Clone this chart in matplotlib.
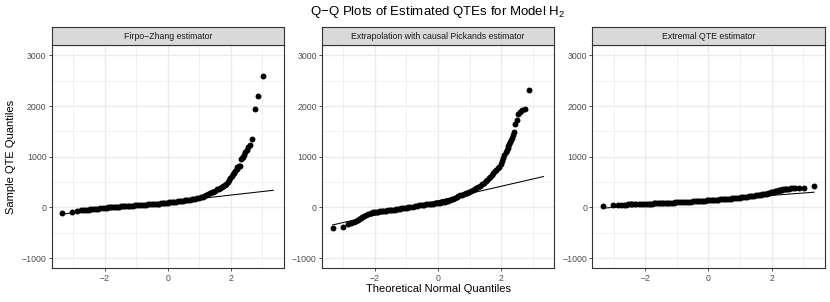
import matplotlib
matplotlib.use("Agg")
import matplotlib.pyplot as plt
import numpy as np
from statistics import NormalDist

# ---------------- data (sample QTE order statistics) -------------
n_sims = 1200
ranks = [1, 2, 3, 4, 5, 6, 7, 8, 9, 10,
         12, 14, 17, 20, 24,
         28, 32, 36, 40, 45, 50, 56, 62, 69, 76, 84, 93, 102, 112, 123, 135, 148, 162, 177, 193,
         210, 230, 252, 275,
         300, 325, 350, 375, 400, 425, 450, 475, 500, 525, 550, 575, 600,
         625, 650, 675, 700, 725, 750, 775, 800,
         822, 844, 866, 888, 910, 930, 950, 970, 988,
         1006, 1022, 1038, 1052, 1066, 1079, 1091, 1102, 1112, 1121,
         1129, 1136, 1142, 1148, 1153, 1158, 1162, 1166, 1169, 1172,
         1175, 1177, 1179, 1181, 1183,
         1184, 1185, 1186, 1187, 1188, 1189, 1190, 1191, 1192, 1193,
         1194, 1195, 1196, 1197, 1198, 1199, 1200]

firpo_zhang = [-118, -85, -62, -56, -50, -46, -43, -40, -37, -35,
               -31, -27, -22, -17, -11,
               -7, -3, 0, 3, 6, 9, 12, 14, 16, 18, 21, 23, 26, 28, 30, 33, 35, 38, 40, 43,
               46, 49, 52, 55,
               57, 60, 63, 66, 69, 72, 75, 78, 81, 85, 88, 92, 96,
               99, 103, 107, 111, 115, 119, 124, 129,
               134, 139, 144, 149, 154, 160, 166, 173, 180,
               189, 198, 210, 228, 245, 262, 282, 300, 315, 335,
               355, 372, 390, 410, 428, 448, 470, 505, 540, 590,
               630, 660, 690, 720, 760,
               790, 800, 810, 820, 960, 975, 1000, 1035, 1100, 1140,
               1190, 1230, 1355, 1950, 2200, 2600, 3400]

pickands = [-405, -385, -330, -310, -290, -270, -250, -228, -205, -185,
            -160, -140, -120, -108, -98,
            -92, -87, -83, -79, -75, -71, -66, -62, -57, -53, -48, -44, -40, -35, -30, -25, -19, -14, -9, -3,
            2, 9, 17, 26,
            36, 43, 48, 53, 57, 61, 65, 69, 73, 77, 81, 85, 89,
            94, 100, 107, 115, 124, 134, 145, 158,
            171, 185, 200, 218, 238, 252, 265, 278, 290,
            305, 320, 342, 362, 385, 405, 428, 455, 485, 515,
            545, 575, 610, 645, 680, 710, 740, 772, 800, 850,
            920, 970, 1030, 1090, 1140,
            1180, 1220, 1260, 1300, 1340, 1380, 1430, 1480, 1650, 1720,
            1840, 1880, 1920, 1950, 2320, 3400, 4600]

extremal = [39, 40, 50, 53, 55, 57, 59, 60, 61, 62,
            64, 65, 67, 69, 71,
            72, 74, 75, 77, 78, 80, 81, 82, 84, 85, 87, 88, 90, 91, 93, 95, 96, 98, 100, 102,
            104, 106, 108, 110,
            112, 114, 117, 119, 121, 123, 126, 128, 131, 133, 136, 139, 142,
            144, 147, 149, 152, 154, 157, 160, 163,
            166, 168, 171, 174, 177, 180, 184, 188, 192,
            196, 200, 205, 209, 214, 218, 223, 228, 233, 238,
            242, 247, 252, 257, 262, 268, 274, 282, 290, 298,
            306, 312, 318, 324, 330,
            334, 337, 341, 345, 348, 352, 356, 360, 364, 368,
            372, 376, 380, 384, 388, 392, 431]

panel_titles = ["Firpo\u2212Zhang estimator",
                "Extrapolation with causal Pickands estimator",
                "Extremal QTE estimator"]
y_ticks = [-1000, 0, 1000, 2000, 3000]
x_ticks = [-2, 0, 2]

assert len(ranks) == len(firpo_zhang) == len(pickands) == len(extremal)

# ---------------- style -------------
FONT = "Liberation Sans"
plt.rcParams["font.family"] = [FONT, "DejaVu Sans"]
plt.rcParams["mathtext.fontset"] = "custom"
plt.rcParams["mathtext.rm"] = FONT
plt.rcParams["mathtext.it"] = FONT + ":italic"

W, H = 830, 302
fig = plt.figure(figsize=(W / 100, H / 100), dpi=100)

nd = NormalDist()
theo = np.array([nd.inv_cdf((r - 0.5) / n_sims) for r in ranks])
z1, z3 = nd.inv_cdf(0.25), nd.inv_cdf(0.75)

lefts = [51.7, 322.0, 592.4]
pw = 232.1
p_top, p_bot = 45.3, 268.3
strip_top = 27.0


def fx(px):
    return px / W


def fy(py):
    return 1 - py / H


series = [firpo_zhang, pickands, extremal]
for left, vals, title in zip(lefts, series, panel_titles):
    vals = np.array(vals, dtype=float)
    ax = fig.add_axes([fx(left), fy(p_bot), pw / W, (p_bot - p_top) / H])
    ax.set_facecolor("white")
    # reference line through the quartiles (as qqline does)
    pos1 = 1 + 0.25 * (n_sims - 1)
    pos3 = 1 + 0.75 * (n_sims - 1)
    q1 = np.interp(pos1, ranks, vals)
    q3 = np.interp(pos3, ranks, vals)
    slope = (q3 - q1) / (z3 - z1)
    inter = q1 - slope * z1
    xl = np.array([theo.min(), theo.max()])
    ax.scatter(theo, vals, s=18, color="black", linewidths=0, zorder=3)
    ax.plot(xl, inter + slope * xl, color="black", lw=0.75, zorder=4)
    span = theo.max() - theo.min()
    ax.set_xlim(theo.min() - 0.05 * span, theo.max() + 0.05 * span)
    ax.set_ylim(-1200, 3200)
    ax.set_xticks(x_ticks)
    ax.set_xticklabels([f"{t:d}".replace("-", "\u2212") for t in x_ticks])
    ax.set_yticks(y_ticks)
    ax.set_yticklabels([f"{t:d}".replace("-", "\u2212") for t in y_ticks])
    ax.set_xticks([-3, -1, 1, 3], minor=True)
    ax.set_yticks([-500, 500, 1500, 2500], minor=True)
    ax.grid(True, which="major", color="#EBEBEB", lw=1.0, zorder=0)
    ax.grid(True, which="minor", color="#EBEBEB", lw=0.5, zorder=0)
    ax.set_axisbelow(True)
    ax.tick_params(which="major", length=2.2, width=0.6, color="#333333",
                   labelsize=6.3, labelcolor="#4D4D4D", pad=1.6)
    ax.tick_params(which="minor", length=0)
    for sp in ax.spines.values():
        sp.set_color("#333333")
        sp.set_linewidth(0.8)
        sp.set_zorder(5)
    # facet strip
    sax = fig.add_axes([fx(left), fy(p_top), pw / W, (p_top - strip_top) / H])
    sax.set_facecolor("#D9D9D9")
    sax.set_xticks([])
    sax.set_yticks([])
    for sp in sax.spines.values():
        sp.set_color("#333333")
        sp.set_linewidth(0.8)
    sax.text(0.5, 0.5, title, ha="center", va="center", fontsize=6.3,
             color="#1A1A1A", transform=sax.transAxes)

center_x = (lefts[0] + lefts[2] + pw) / 2
fig.text(fx(center_x), fy(12.5), "Q\u2212Q Plots of Estimated QTEs for Model H$_{2}$",
         ha="center", va="center", fontsize=9.5, color="black")
fig.text(fx(center_x), fy(289), "Theoretical Normal Quantiles", ha="center",
         va="center", fontsize=8, color="black")
fig.text(fx(11.5), fy((p_top + p_bot) / 2), "Sample QTE Quantiles", ha="center",
         va="center", rotation=90, fontsize=8, color="black")

fig.savefig("out.png", dpi=100, facecolor="white")
